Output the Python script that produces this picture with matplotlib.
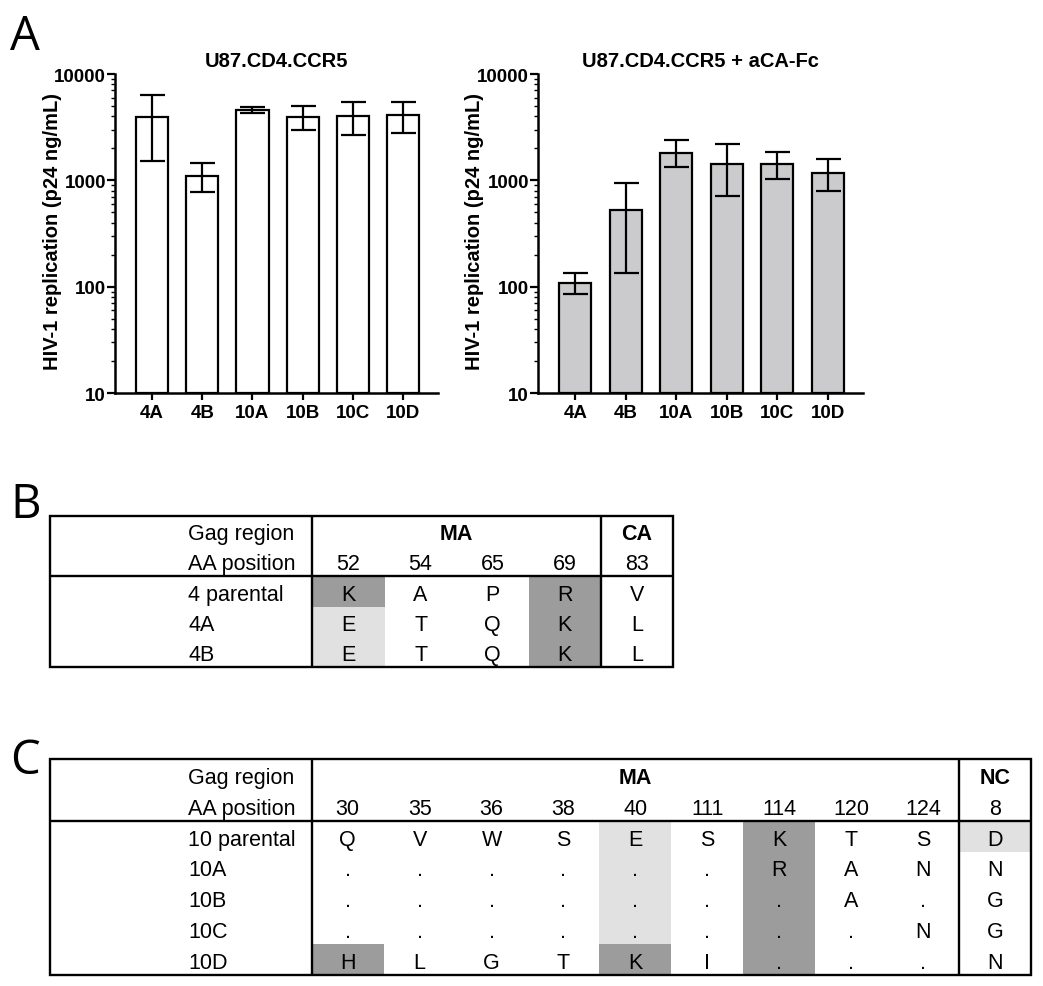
import numpy as np
import matplotlib
matplotlib.use('Agg')
import matplotlib.pyplot as plt
from matplotlib.patches import Rectangle
from matplotlib.ticker import LogLocator, NullFormatter

plt.rcParams['font.family'] = ['Liberation Sans', 'DejaVu Sans']

# Panel A data (p24 ng/mL), mean with lower / upper ends of the error bars
strains = ['4A', '4B', '10A', '10B', '10C', '10D']
rep_mean = [3900, 1100, 4550, 3900, 4000, 4100]
rep_lo = [1530, 780, 4270, 2950, 2650, 2800]
rep_hi = [6300, 1470, 4870, 4970, 5500, 5500]
fc_mean = [108, 530, 1820, 1430, 1430, 1180]
fc_lo = [86, 135, 1330, 715, 1020, 800]
fc_hi = [135, 950, 2420, 2200, 1850, 1580]
y_ticks = [10, 100, 1000, 10000]

# Panel B table
b_regions = ['MA', 'CA']
b_spans = [4, 1]
b_positions = ['52', '54', '65', '69', '83']
b_names = ['4 parental', '4A', '4B']
b_rows = [['K', 'A', 'P', 'R', 'V'],
          ['E', 'T', 'Q', 'K', 'L'],
          ['E', 'T', 'Q', 'K', 'L']]
b_shade = ['D..D.', 'L..D.', 'L..D.']

# Panel C table
c_regions = ['MA', 'NC']
c_spans = [9, 1]
c_positions = ['30', '35', '36', '38', '40', '111', '114', '120', '124', '8']
c_names = ['10 parental', '10A', '10B', '10C', '10D']
c_rows = [['Q', 'V', 'W', 'S', 'E', 'S', 'K', 'T', 'S', 'D'],
          ['.', '.', '.', '.', '.', '.', 'R', 'A', 'N', 'N'],
          ['.', '.', '.', '.', '.', '.', '.', 'A', '.', 'G'],
          ['.', '.', '.', '.', '.', '.', '.', '.', 'N', 'G'],
          ['H', 'L', 'G', 'T', 'K', 'I', '.', '.', '.', 'N']]
c_shade = ['....L.D..L', '....L.D...', '....L.D...', '....L.D...', 'D...D.D...']

SHADES = {'D': '#9c9c9c', 'L': '#e1e1e1'}
LABEL_W = 3.64
LABEL_X = -1.72
TXT = 15.5
LW = 1.7

fig = plt.figure(figsize=(10.43, 9.87), dpi=100)


def bar_panel(rect, mean, lo, hi, color, title):
    ax = fig.add_axes(rect)
    x = np.arange(len(strains))
    mean = np.array(mean, float)
    ax.set_yscale('log')
    ax.bar(x, mean - 10, bottom=10, width=0.64, color=color,
           edgecolor='black', linewidth=1.6, zorder=2)
    err = [mean - np.array(lo), np.array(hi) - mean]
    ax.errorbar(x, mean, yerr=err, fmt='none', ecolor='black',
                elinewidth=1.6, capsize=9, capthick=1.6, zorder=3)
    ax.set_ylim(10, 10000)
    ax.set_xlim(-0.74, 5.70)
    ax.set_yticks(y_ticks, labels=[str(t) for t in y_ticks])
    ax.yaxis.set_minor_locator(LogLocator(base=10, subs=np.arange(2, 10)))
    ax.yaxis.set_minor_formatter(NullFormatter())
    ax.set_xticks(x, strains)
    for lab in ax.get_xticklabels() + ax.get_yticklabels():
        lab.set_fontweight('bold')
        lab.set_fontsize(13.5)
    ax.tick_params(axis='y', which='major', length=6, width=1.6, pad=0.5)
    ax.tick_params(axis='y', which='minor', length=3, width=1.0)
    ax.tick_params(axis='x', length=5, width=1.6, pad=3)
    for s in ['top', 'right']:
        ax.spines[s].set_visible(False)
    for s in ['left', 'bottom']:
        ax.spines[s].set_linewidth(1.8)
    ax.set_title(title, fontsize=14.5, fontweight='bold', pad=5.5)
    ax.set_ylabel('HIV-1 replication (p24 ng/mL)', fontsize=14.5,
                  fontweight='bold', va='center')
    ax.yaxis.set_label_coords(-0.195, 0.51)
    return ax


bar_panel([0.1103, 0.6008, 0.3097, 0.3232], rep_mean, rep_lo, rep_hi,
          'white', 'U87.CD4.CCR5')
bar_panel([0.5158, 0.6008, 0.3116, 0.3232], fc_mean, fc_lo, fc_hi,
          '#cbcbcd', 'U87.CD4.CCR5 + aCA-Fc')


def draw_table(rect, regions, spans, positions, names, rows, shade):
    ax = fig.add_axes(rect)
    ncol = len(positions)
    nrow = len(names) + 2
    ax.set_xlim(-LABEL_W, ncol)
    ax.set_ylim(nrow, 0)
    ax.axis('off')
    base = 0.77
    for r, line in enumerate(shade):
        for c, s in enumerate(line):
            if s in SHADES:
                ax.add_patch(Rectangle((c, r + 2), 1, 1, facecolor=SHADES[s],
                                       linewidth=0, zorder=1))
    ax.text(LABEL_X, base, 'Gag region', ha='left', va='baseline', fontsize=TXT)
    ax.text(LABEL_X, 1 + base, 'AA position', ha='left', va='baseline', fontsize=TXT)
    start = 0
    for reg, sp in zip(regions, spans):
        ax.text(start + sp / 2, base, reg, ha='center', va='baseline',
                fontsize=TXT, fontweight='bold')
        start += sp
        if start < ncol:
            ax.plot([start, start], [0, nrow], color='black', lw=LW,
                    solid_capstyle='butt', zorder=3)
    for c, p in enumerate(positions):
        ax.text(c + 0.5, 1 + base, p, ha='center', va='baseline', fontsize=TXT)
    for r, (name, vals) in enumerate(zip(names, rows)):
        ax.text(LABEL_X, r + 2 + base, name, ha='left', va='baseline', fontsize=TXT)
        for c, v in enumerate(vals):
            ax.text(c + 0.5, r + 2 + base, v, ha='center', va='baseline',
                    fontsize=TXT, zorder=4)
    ax.plot([0, 0], [0, nrow], color='black', lw=LW, solid_capstyle='butt', zorder=3)
    ax.plot([-LABEL_W, ncol], [2, 2], color='black', lw=LW,
            solid_capstyle='butt', zorder=3)
    ax.add_patch(Rectangle((-LABEL_W, 0), LABEL_W + ncol, nrow, fill=False,
                           edgecolor='black', linewidth=LW, clip_on=False, zorder=3))


draw_table([0.0479, 0.3232, 0.5973, 0.1530], b_regions, b_spans, b_positions,
           b_names, b_rows, b_shade)
draw_table([0.0479, 0.0111, 0.9406, 0.2188], c_regions, c_spans, c_positions,
           c_names, c_rows, c_shade)

for letter, ypix in [('A', 50), ('B', 518), ('C', 774)]:
    fig.text(10 / 1043, 1 - ypix / 987, letter, fontsize=34,
             family=['Open Sans', 'DejaVu Sans'], va='baseline', ha='left')

fig.savefig('out.png', dpi=100)
